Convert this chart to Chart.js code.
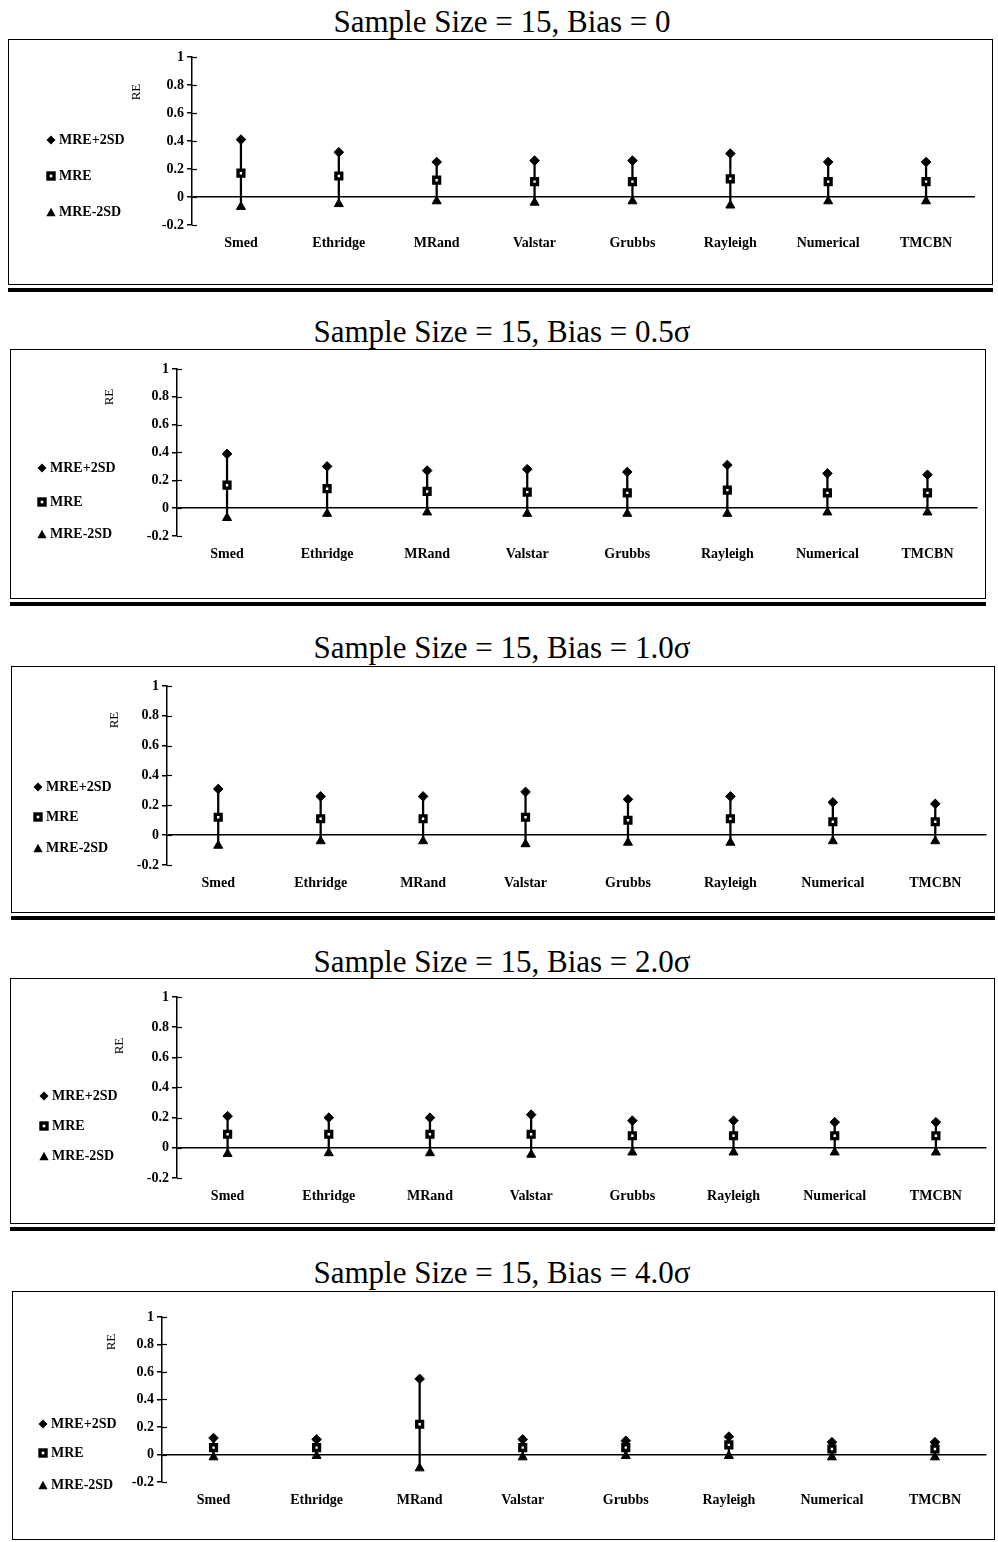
<!DOCTYPE html>
<html><head><meta charset="utf-8">
<script src="https://cdn.jsdelivr.net/npm/chart.js@4.4.1/dist/chart.umd.min.js"></script>
<style>
html,body{margin:0;padding:0;background:#fff;}
#page{position:relative;width:998px;height:1542px;overflow:hidden;font-family:"Liberation Serif","Times New Roman",serif;color:#000;}
.title{position:absolute;left:5px;width:994px;text-align:center;font-size:31px;line-height:31px;white-space:nowrap;}
.box{position:absolute;border:1px solid #000;box-sizing:border-box;}
.rule{position:absolute;height:4px;background:#000;}
.cv{position:absolute;}
.leg{position:absolute;height:16px;font:bold 14px "Liberation Serif",serif;display:flex;align-items:center;white-space:nowrap;}
.leg svg{margin-right:3px;flex:none;}
</style></head><body><div id="page"></div>
<script>
// ---- data ----
const categories = ['Smed','Ethridge','MRand','Valstar','Grubbs','Rayleigh','Numerical','TMCBN'];
const seriesNames = ['MRE+2SD','MRE','MRE-2SD'];
const yTickValues = [-0.2, 0, 0.2, 0.4, 0.6, 0.8, 1];
const panelTitles = ['Sample Size = 15, Bias = 0','Sample Size = 15, Bias = 0.5\u03c3','Sample Size = 15, Bias = 1.0\u03c3','Sample Size = 15, Bias = 2.0\u03c3','Sample Size = 15, Bias = 4.0\u03c3'];
const yAxisTitle = 'RE';

const upperBias0 = [0.41, 0.32, 0.25, 0.26, 0.26, 0.31, 0.25, 0.25];
const mreBias0   = [0.17, 0.15, 0.12, 0.11, 0.11, 0.13, 0.11, 0.11];
const lowerBias0 = [-0.07, -0.05, -0.03, -0.04, -0.03, -0.06, -0.03, -0.03];

const upperBias05 = [0.39, 0.30, 0.27, 0.28, 0.26, 0.31, 0.25, 0.24];
const mreBias05   = [0.165, 0.14, 0.12, 0.115, 0.11, 0.13, 0.11, 0.11];
const lowerBias05 = [-0.07, -0.04, -0.03, -0.04, -0.04, -0.04, -0.03, -0.03];

const upperBias10 = [0.31, 0.26, 0.26, 0.29, 0.24, 0.26, 0.22, 0.21];
const mreBias10   = [0.12, 0.11, 0.11, 0.12, 0.10, 0.11, 0.09, 0.09];
const lowerBias10 = [-0.07, -0.04, -0.04, -0.06, -0.05, -0.05, -0.04, -0.04];

const upperBias20 = [0.21, 0.20, 0.20, 0.22, 0.18, 0.18, 0.17, 0.17];
const mreBias20   = [0.09, 0.09, 0.09, 0.09, 0.08, 0.08, 0.08, 0.08];
const lowerBias20 = [-0.04, -0.035, -0.035, -0.045, -0.03, -0.03, -0.03, -0.03];

const upperBias40 = [0.12, 0.11, 0.55, 0.11, 0.10, 0.13, 0.09, 0.09];
const mreBias40   = [0.05, 0.05, 0.22, 0.05, 0.05, 0.07, 0.04, 0.04];
const lowerBias40 = [-0.02, -0.01, -0.10, -0.02, -0.01, -0.01, -0.02, -0.02];

const panelSeries = [
  [upperBias0, mreBias0, lowerBias0],
  [upperBias05, mreBias05, lowerBias05],
  [upperBias10, mreBias10, lowerBias10],
  [upperBias20, mreBias20, lowerBias20],
  [upperBias40, mreBias40, lowerBias40]
];

// ---- layout (pixels) ----
const layout = [
  {box:[8,39,993,285],   plot:[192,57,975,225],   titleBase:32,   rule:true,  legX:51, legY:[140,176,212],    re:[137,92]},
  {box:[10,349,986,599], plot:[177,369,984,536],  titleBase:342,  rule:true,  legX:42, legY:[468,502,534],    re:[110,397]},
  {box:[11,666,995,913], plot:[167,686,989,865],  titleBase:658,  rule:true,  legX:38, legY:[787,817,848],    re:[115,720]},
  {box:[10,978,995,1224],plot:[177,997,990,1178], titleBase:972,  rule:true,  legX:44, legY:[1096,1126,1156], re:[120,1046]},
  {box:[12,1291,995,1540],plot:[162,1317,988,1482],titleBase:1283, rule:false, legX:43, legY:[1424,1453,1485], re:[112,1342]}
];
const Y_AXIS_W = 50, X_AXIS_H = 40;

const page = document.getElementById('page');
const markerSvg = [
  '<svg width="10" height="10" viewBox="0 0 10 10"><path d="M5 0.5L9.5 5L5 9.5L0.5 5Z" fill="#000"/></svg>',
  '<svg width="10" height="10" viewBox="0 0 10 10"><rect x="2" y="2" width="6" height="6" fill="#fff" stroke="#000" stroke-width="3.4"/></svg>',
  '<svg width="10" height="10" viewBox="0 0 10 10"><path d="M5 0.8L9.6 9.2L0.4 9.2Z" fill="#000"/></svg>'
];

const overlayPlugin = {
  id: 'overlay',
  afterDraw(chart, args, opts) {
    const ctx = chart.ctx;
    const ys = chart.scales.y;
    ctx.save();
    // inner halves of the y-axis tick marks
    ctx.strokeStyle = '#000'; ctx.lineWidth = 1.2;
    yTickValues.forEach(v => {
      const py = Math.round(ys.getPixelForValue(v)) + 0.5;
      ctx.beginPath(); ctx.moveTo(ys.right, py); ctx.lineTo(ys.right + 5, py); ctx.stroke();
    });
    // y-axis title
    ctx.translate(opts.x, opts.y);
    ctx.rotate(-Math.PI / 2);
    ctx.font = '13px "Liberation Serif", serif';
    ctx.fillStyle = '#000';
    ctx.textAlign = 'center'; ctx.textBaseline = 'middle';
    ctx.fillText(yAxisTitle, 0, 0);
    ctx.restore();
  }
};

layout.forEach((L, i) => {
  const [bl, bt, br, bb] = L.box;
  const [pl, pt, pr, pb] = L.plot;
  const t = document.createElement('div');
  t.className = 'title'; t.style.top = (L.titleBase - 26) + 'px'; t.textContent = panelTitles[i];
  page.appendChild(t);
  const box = document.createElement('div');
  box.className = 'box';
  box.style.left = bl + 'px'; box.style.top = bt + 'px';
  box.style.width = (br - bl) + 'px'; box.style.height = (bb - bt) + 'px';
  page.appendChild(box);
  if (L.rule) {
    const r = document.createElement('div');
    r.className = 'rule';
    r.style.left = bl + 'px'; r.style.top = (bb + 3) + 'px'; r.style.width = (br - bl) + 'px';
    page.appendChild(r);
  }
  const cl = bl + 1, ct = bt + 1, cw = br - bl - 2, ch = bb - bt - 2;
  const canvas = document.createElement('canvas');
  canvas.className = 'cv';
  canvas.width = cw; canvas.height = ch;
  canvas.style.left = cl + 'px'; canvas.style.top = ct + 'px';
  canvas.style.width = cw + 'px'; canvas.style.height = ch + 'px';
  page.appendChild(canvas);

  seriesNames.forEach((name, k) => {
    const lg = document.createElement('div');
    lg.className = 'leg';
    lg.style.left = (L.legX - 5) + 'px';
    lg.style.top = (L.legY[k] - 8) + 'px';
    lg.innerHTML = markerSvg[k] + '<span>' + name + '</span>';
    page.appendChild(lg);
  });

  const [upper, mre, lower] = panelSeries[i];
  new Chart(canvas, {
    type: 'bar',
    data: {
      labels: categories,
      datasets: [
        {type:'line', label: seriesNames[1], data: mre, showLine:false, pointStyle:'rect', pointRadius:4.1, pointHoverRadius:4.1,
         pointBackgroundColor:'#fff', pointBorderColor:'#000', pointBorderWidth:3.4, order:0},
        {type:'line', label: seriesNames[0], data: upper, showLine:false, pointStyle:'rectRot', pointRadius:4.8, pointHoverRadius:4.8,
         pointBackgroundColor:'#000', pointBorderColor:'#000', pointBorderWidth:1, order:1},
        {type:'line', label: seriesNames[2], data: lower, showLine:false, pointStyle:'triangle', pointRadius:5.2, pointHoverRadius:5.2,
         pointBackgroundColor:'#000', pointBorderColor:'#000', pointBorderWidth:1, order:1},
        {type:'bar', label:'range', data: upper.map((u, j) => [lower[j], u]), backgroundColor:'#000', borderWidth:0,
         barThickness:1.6, order:5}
      ]
    },
    options: {
      responsive:false, animation:false, devicePixelRatio:1,
      layout: {padding: {left: pl - Y_AXIS_W - cl, top: pt - ct, right: (cl + cw) - pr, bottom: Math.max(0, (ct + ch) - pb - X_AXIS_H)}},
      plugins: {legend:{display:false}, tooltip:{enabled:false}, overlay:{x: L.re[0] - cl, y: L.re[1] - ct}},
      scales: {
        x: {
          type:'category', offset:true,
          grid:{display:false, drawTicks:false, tickLength:0}, border:{display:false},
          ticks:{color:'#000', font:{family:'"Liberation Serif", serif', size:14, weight:'bold'}, padding:10, maxRotation:0, autoSkip:false},
          afterFit: s => { s.height = X_AXIS_H; }
        },
        y: {
          min:-0.2, max:1,
          afterBuildTicks: s => { s.ticks = yTickValues.map(v => ({value: v})); },
          ticks:{color:'#000', font:{family:'"Liberation Serif", serif', size:14, weight:'bold'}, padding:3,
                 callback: v => String(Math.round(v * 10) / 10)},
          grid:{color: c => (c.tick && Math.abs(c.tick.value) < 1e-9) ? '#000' : 'rgba(0,0,0,0)', lineWidth:1.5,
                tickColor:'#000', tickLength:5, drawTicks:true},
          border:{display:true, color:'#000', width:1.5},
          afterFit: s => { s.width = Y_AXIS_W; }
        }
      }
    },
    plugins: [overlayPlugin]
  });
});
</script></body></html>
